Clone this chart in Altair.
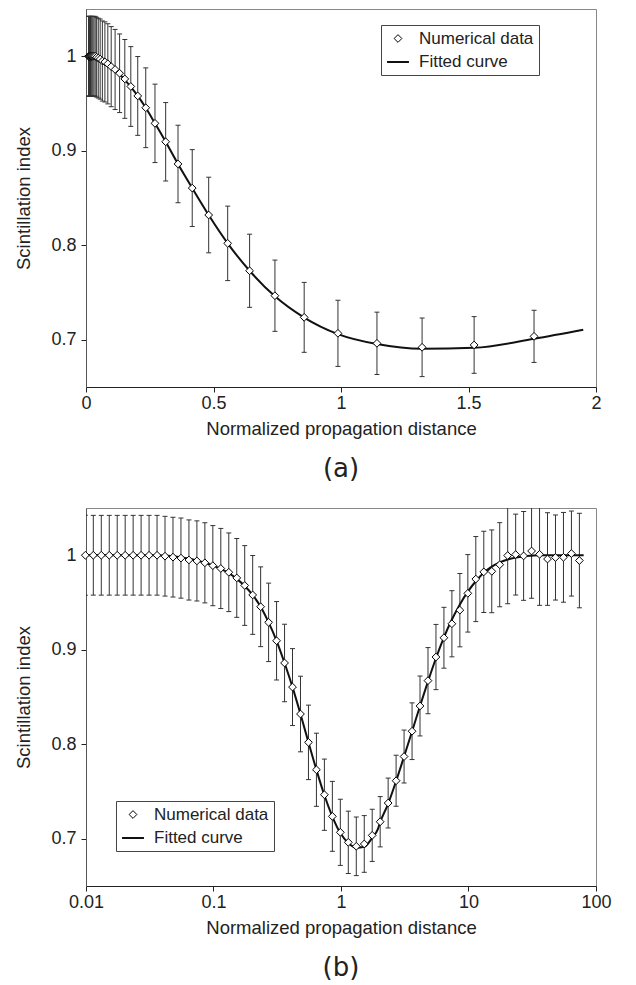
import altair as alt
import pandas as pd

# ---------------- data ----------------
x_pts = [0.00988, 0.01141, 0.01318, 0.01522, 0.01757, 0.02029, 0.02343, 0.02705,
         0.03124, 0.03608, 0.04166, 0.04811, 0.05556, 0.06416, 0.07409, 0.08556,
         0.0988, 0.1141, 0.1318, 0.1522, 0.1757, 0.2029, 0.2343, 0.2705,
         0.3124, 0.3608, 0.4166, 0.4811, 0.5556, 0.6416, 0.7409, 0.8556,
         0.988, 1.141, 1.318, 1.522, 1.757, 2.029, 2.343, 2.705,
         3.124, 3.608, 4.166, 4.811, 5.556, 6.416, 7.409, 8.556,
         9.88, 11.41, 13.18, 15.22, 17.57, 20.29, 23.43, 27.05,
         31.24, 36.08, 41.66, 48.11, 55.56, 64.16, 74.09]

y_pts = [1.0, 1.0, 1.0, 1.0, 1.0, 1.0, 1.0, 1.0,
         1.0, 1.0, 0.999, 0.998, 0.997, 0.995, 0.994, 0.992,
         0.989, 0.986, 0.982, 0.976, 0.968, 0.958, 0.9455, 0.929,
         0.9095, 0.886, 0.8605, 0.832, 0.802, 0.773, 0.7466, 0.7237,
         0.7068, 0.6962, 0.692, 0.6945, 0.7036, 0.718, 0.7378, 0.7614,
         0.787, 0.8138, 0.8405, 0.8673, 0.8923, 0.9127, 0.9275, 0.9419,
         0.9597, 0.9748, 0.9824, 0.983, 0.990, 0.9997, 1.0007, 0.9993,
         1.0045, 1.001, 0.996, 0.9976, 0.9978, 1.0018, 0.9944]

err = [0.0422, 0.0422, 0.0422, 0.0422, 0.0422, 0.0422, 0.0422, 0.0422,
       0.0422, 0.0422, 0.0422, 0.0422, 0.0424, 0.0424, 0.0424, 0.0424,
       0.0424, 0.0424, 0.0416, 0.0417, 0.0422, 0.0417, 0.0422, 0.0415,
       0.0415, 0.041, 0.0407, 0.040, 0.0394, 0.0387, 0.0377, 0.037,
       0.035, 0.033, 0.031, 0.030, 0.0276, 0.0266, 0.0264, 0.027,
       0.028, 0.030, 0.0317, 0.035, 0.0345, 0.0322, 0.035, 0.0388,
       0.041, 0.045, 0.043, 0.0438, 0.0445, 0.051, 0.0428, 0.047,
       0.050, 0.054, 0.049, 0.045, 0.0475, 0.045, 0.050]

curve_x = x_pts[:37] + [1.95] + x_pts[37:] + [80.0]
curve_y = [1.0, 1.0, 1.0, 1.0, 1.0, 1.0, 1.0, 1.0,
           1.0, 1.0, 0.9995, 0.999, 0.998, 0.9965, 0.9945, 0.992,
           0.989, 0.9855, 0.981, 0.975, 0.9675, 0.958, 0.9455, 0.929,
           0.9095, 0.886, 0.8605, 0.832, 0.802, 0.773, 0.746, 0.7235,
           0.706, 0.6955, 0.6905, 0.6915, 0.701, 0.7105, 0.7175, 0.737,
           0.761, 0.787, 0.8135, 0.8405, 0.8665, 0.891, 0.913, 0.932,
           0.948, 0.9615, 0.9725, 0.9815, 0.988, 0.9925, 0.9955, 0.9975,
           0.9988, 0.9995, 1.0, 1.0, 1.0, 1.0, 1.0, 1.0, 1.0]

series = ["Numerical data", "Fitted curve"]
xticks_a = [0, 0.5, 1, 1.5, 2]
xticks_b = [0.01, 0.1, 1, 10, 100]
yticks = [0.7, 0.8, 0.9, 1.0]

pts = pd.DataFrame({
    "x": x_pts,
    "y": y_pts,
    "lo": [v - e for v, e in zip(y_pts, err)],
    "hi": [v + e for v, e in zip(y_pts, err)],
    "series": ["Numerical data"] * len(x_pts),
})
crv = pd.DataFrame({"x": curve_x, "y": curve_y})

FONT = "Liberation Sans"
W, H = 510, 378


def make_axis(title, values, domain_color, label_pad, title_pad):
    return alt.Axis(values=values, format="~g", title=title, grid=False,
                    tickSize=5, tickColor="#222", labelPadding=label_pad,
                    labelFlush=False, labelOverlap=False,
                    domainColor=domain_color, labelFont=FONT, labelFontSize=18,
                    labelColor="#222", titleFont=FONT, titleFontSize=18.5,
                    titleFontWeight="normal", titleColor="#222",
                    titlePadding=title_pad)


def panel(xscale, xticks, pts_df, crv_df, lx, ly, label):
    xax = make_axis("Normalized propagation distance", xticks, "#222", 2, 7.5)
    yax = make_axis("Scintillation index", yticks, "#555", 5, 17)
    ysc = alt.Scale(domain=[0.65, 1.05], nice=False, zero=False)
    X = alt.X("x:Q", scale=xscale, axis=xax)
    leg = alt.Legend(title=None, orient="none", legendX=lx, legendY=ly,
                     strokeColor="#444", fillColor="white", padding=5,
                     labelFont=FONT, labelFontSize=17, labelColor="#222",
                     labelOffset=9, rowPadding=3)
    base = alt.Chart(pts_df)
    rules = base.mark_rule(color="#333", strokeWidth=1, clip=True).encode(
        x=X, y=alt.Y("lo:Q", scale=ysc, axis=yax), y2="hi:Q")
    cap_lo = base.mark_tick(orient="horizontal", size=5, thickness=1,
                            color="#333", opacity=1, clip=True).encode(
        x=X, y=alt.Y("lo:Q", scale=ysc, axis=yax))
    cap_hi = base.mark_tick(orient="horizontal", size=5, thickness=1,
                            color="#333", opacity=1, clip=True).encode(
        x=X, y=alt.Y("hi:Q", scale=ysc, axis=yax))
    line = alt.Chart(crv_df).mark_line(color="#111", strokeWidth=2,
                                       interpolate="monotone").encode(
        x=X, y=alt.Y("y:Q", scale=ysc, axis=yax))
    points = base.mark_point(opacity=1).encode(
        x=X, y=alt.Y("y:Q", scale=ysc, axis=yax),
        shape=alt.Shape("series:N", scale=alt.Scale(domain=series,
                                                    range=["diamond", "stroke"]),
                        legend=leg),
        size=alt.Size("series:N", scale=alt.Scale(domain=series, range=[60, 480]),
                      legend=leg),
        strokeWidth=alt.StrokeWidth("series:N",
                                    scale=alt.Scale(domain=series, range=[1, 2]),
                                    legend=leg),
        fill=alt.Fill("series:N", scale=alt.Scale(domain=series,
                                                  range=["white", "white"]),
                      legend=leg),
        stroke=alt.Stroke("series:N", scale=alt.Scale(domain=series,
                                                      range=["black", "#111"]),
                          legend=leg),
    )
    return alt.layer(rules, cap_lo, cap_hi, line, points).properties(
        width=W, height=H,
        title=alt.TitleParams(label, orient="bottom", font="DejaVu Sans",
                              fontSize=26, fontWeight="normal", color="#222",
                              anchor="middle", frame="group", offset=18),
    )


pa = panel(alt.Scale(domain=[0, 2], nice=False, zero=False), xticks_a,
           pts[pts["x"] <= 2], crv[crv["x"] <= 1.95], 295, 16, "(a)")
pb = panel(alt.Scale(type="log", domain=[0.01, 100], nice=False), xticks_b,
           pts, crv, 30, 293, "(b)")

chart = alt.vconcat(pa, pb, spacing=24).resolve_scale(
    shape="independent", size="independent", strokeWidth="independent",
    fill="independent", stroke="independent"
).resolve_legend(
    shape="independent", size="independent", strokeWidth="independent",
    fill="independent", stroke="independent"
).properties(
    padding={"left": 6, "top": 0, "right": 0, "bottom": 0}
).configure_view(stroke="#888", strokeWidth=1)

chart.save("out.html", embed_options={"renderer": "svg", "actions": False})
